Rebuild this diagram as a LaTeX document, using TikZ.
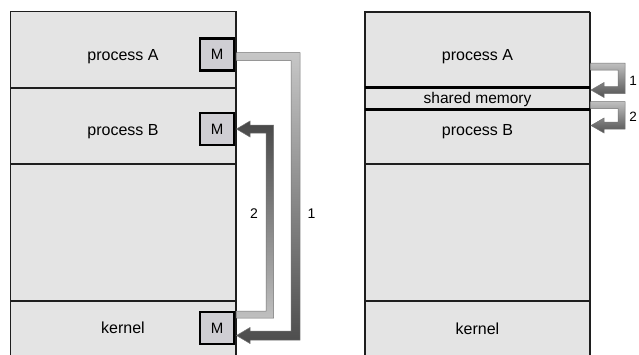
\documentclass[tikz,border=0pt]{standalone}
\usepackage{fontspec}
\setmainfont{Liberation Sans}
\definecolor{blockfill}{RGB}{228,228,228}
\definecolor{mfill}{RGB}{207,206,211}
\definecolor{edge}{RGB}{30,30,30}
\begin{document}
\begin{tikzpicture}[x=1pt,y=-1pt,
  blk/.style={fill=blockfill,draw=edge,line width=1.2pt},
  sep/.style={draw=edge,line width=1.3pt},
  thicksep/.style={draw=black,line width=3pt},
  lbl/.style={anchor=base,inner sep=0pt,font=\fontsize{16}{19}\selectfont},
  mbox/.style={draw=black,line width=2.4pt,fill=mfill,minimum width=34pt,minimum height=32pt,inner sep=0pt,font=\fontsize{15}{18}\selectfont},
  num/.style={anchor=base,inner sep=0pt,font=\fontsize{14}{17}\selectfont},
  arrdown/.style={top color=black!22,bottom color=black!70,draw=black!55,line width=0.5pt},
  arrup/.style={top color=black!72,bottom color=black!25,draw=black!55,line width=0.5pt},
  arrsm/.style={top color=black!25,bottom color=black!68,draw=black!55,line width=0.5pt}]
\useasboundingbox (0,0) rectangle (639,354);
\begin{scope}
\clip (0,0) rectangle (639,354);
% left block
\path[blk] (10.5,360) -- (10.5,11.5) -- (235.5,11.5) -- (235.5,360);
\draw[edge,line width=2pt] (235.5,11) -- (235.5,360);
\draw[sep] (10.5,88) -- (235.5,88);
\draw[sep] (10.5,164) -- (235.5,164);
\draw[sep] (10.5,301) -- (235.5,301);
% right block
\path[blk] (365,360) -- (365,12) -- (589.5,12) -- (589.5,360);
\draw[edge,line width=2pt] (589.5,11.5) -- (589.5,360);
\draw[thicksep] (365,87) -- (589.5,87);
\draw[thicksep] (365,109) -- (589.5,109);
\draw[sep] (365,164) -- (589.5,164);
\draw[sep] (365,301) -- (589.5,301);
\end{scope}
% labels left
\node[lbl] (pA) at (123,60.7) {process A};
\node[lbl] (pB) at (123,135.5) {process B};
\node[lbl] (kL) at (123,333.5) {kernel};
% labels right
\node[lbl] (rA) at (477.5,60) {process A};
\node[lbl,font=\fontsize{15.5}{18}\selectfont] (sm) at (477.5,103.5) {shared memory};
\node[lbl] (rB) at (477.5,135) {process B};
\node[lbl] (kR) at (477.5,334) {kernel};
% M boxes
\node[mbox] (mA) at (217,54.5) {M};
\node[mbox] (mB) at (217,129) {M};
\node[mbox] (mK) at (217,328) {M};
% arrow 1 (left): from process A M to kernel M
\path[arrdown] (236.5,52.5) -- (300,52.5) -- (300,340) -- (250,340) -- (250,343.5)
  -- (236.5,335.5) -- (250,327.5) -- (250,331) -- (291,331) -- (291,60.5) -- (236.5,60.5) -- cycle;
% arrow 2 (left): from kernel M to process B M
\path[arrup] (236.5,318) -- (273.5,318) -- (273.5,125) -- (250,125) -- (250,121)
  -- (236.5,129) -- (250,137) -- (250,133) -- (266,133) -- (266,311) -- (236.5,311) -- cycle;
\node[num] (n2) at (254,218) {2};
\node[num] (n1) at (311.5,218) {1};
% right arrows
\path[arrsm] (590.5,63) -- (625,63) -- (625,93.5) -- (604,93.5) -- (604,97.5)
  -- (591,90) -- (604,82.5) -- (604,86.5) -- (618,86.5) -- (618,70) -- (590.5,70) -- cycle;
\path[arrsm] (590.5,101.5) -- (625,101.5) -- (625,129) -- (604,129) -- (604,133)
  -- (591,125.5) -- (604,118) -- (604,122) -- (618,122) -- (618,108.5) -- (590.5,108.5) -- cycle;
\node[num,font=\fontsize{13.5}{16}\selectfont] (r1) at (633,85) {1};
\node[num,font=\fontsize{13.5}{16}\selectfont] (r2) at (633,121) {2};
\end{tikzpicture}
\end{document}
